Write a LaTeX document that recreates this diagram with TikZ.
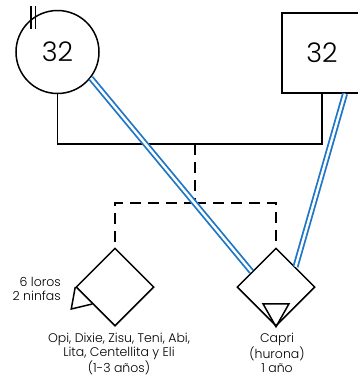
\documentclass[tikz,border=0pt]{standalone}
\usepackage{fontspec}
\setmainfont{Poppins}[UprightFont=* Light]
\usetikzlibrary{shapes.geometric,calc}
\definecolor{bondblue}{RGB}{30,118,200}
\begin{document}
\begin{tikzpicture}[x=1pt,y=-1pt,
	person/.style={draw,line width=1.5pt,inner sep=0pt,font=\fontsize{27}{27}\selectfont},
	pet/.style={draw,diamond,line width=1.5pt,minimum width=78pt,minimum height=78pt,inner sep=0pt},
	family/.style={line width=1.5pt},
	link/.style={line width=1.5pt,dash pattern=on 11pt off 7pt},
	bond/.style={draw=bondblue,line width=1.8pt,double=white,double distance=2.4pt},
	lbl/.style={font=\fontsize{12.5}{14}\selectfont,align=center,inner sep=0pt}]
		\useasboundingbox (0,0) rectangle (358,376);
		% parents
		\node[person,circle,minimum size=83pt] (female) at (57.5,52) {32};
		\node[person,rectangle,minimum width=80pt,minimum height=80pt] (male) at (322,53) {32};
		\draw[line width=1.2pt] (31,6) -- (31,29) (35.5,6) -- (35.5,29);
		\coordinate (couple) at (195,144);
		\coordinate (kids) at (195,203);
		% pets
		\node[pet] (pets) at (115,287) {};
		\node[pet] (capri) at (276,287) {};
		\draw[family] (female.south) |- (couple) -| (male.south);
		\draw[link] (couple) -- (kids);
		\draw[link] (kids) -| (pets.north);
		\draw[link] (kids) -| (capri.north);
		\draw[family,line join=miter] (pets.west) -- ($(pets.west)+(-4,22)$) -- ($(pets.west)+(17,17)$);
		\draw[family,line join=miter] (capri.south) -- ++(-13,-23) -- ++(26,0) -- cycle;
		% emotional bonds
		\draw[bond] (female.-38) -- (capri.148);
		\draw[bond] ([xshift=23pt]male.south) -- (capri.46);
		% labels
		\node[lbl,anchor=east,align=right] (petsnum) at (61,289) {6 loros\\2 ninfas};
		\node[lbl,anchor=north] (petsname) at (119,333) {Opi, Dixie, Zisu, Teni, Abi,\\Lita, Centellita y Eli\\(1-3 años)};
		\node[lbl,anchor=north] (capriname) at (277,333) {Capri\\(hurona)\\1 año};
\end{tikzpicture}
\end{document}
